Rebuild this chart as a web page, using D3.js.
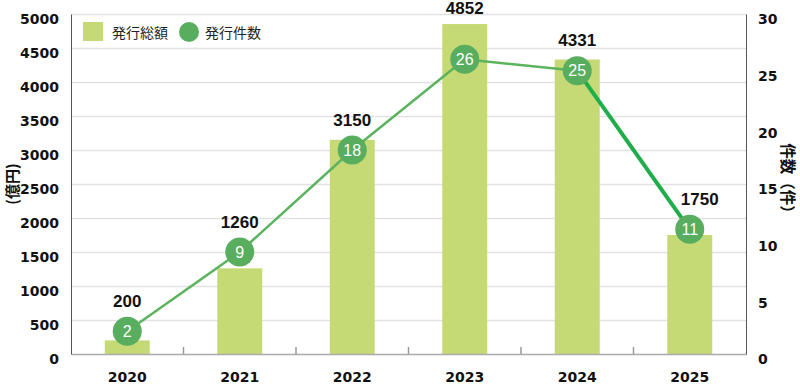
<!DOCTYPE html>
<html><head><meta charset="utf-8">
<script src="https://cdn.jsdelivr.net/npm/d3@7"></script>
<style>body{margin:0;background:#fff;}svg{display:block;}</style>
</head><body><svg id="c" width="800" height="391"></svg>
<script>
const years = ['2020','2021','2022','2023','2024','2025'];
const amounts = [200, 1260, 3150, 4852, 4331, 1750];
const counts = [2, 9, 18, 26, 25, 11];
const leftTicks = [0,500,1000,1500,2000,2500,3000,3500,4000,4500,5000];
const rightTicks = [0,5,10,15,20,25,30];
const legendLabels = ['発行総額','発行件数'];
const leftTitle = '(億円)';
const rightTitle = '件数（件）';

const svg = d3.select('#c');
const L = 71, R = 746, T = 14, B = 354;
const x = d3.scaleBand().domain(years).range([L, R]).padding(0);
const yL = d3.scaleLinear().domain([0, 5000]).range([B, T]);
const yR = d3.scaleLinear().domain([0, 30]).range([B, T]);
const bw = x.bandwidth();
const cx = d => x(d) + bw / 2;
const barColor = '#c5da75', dotColor = '#58ad5e';
const numFont = '"DejaVu Sans", sans-serif';
const jpFont = '"Noto Sans CJK JP", sans-serif';

// gridlines
const grid = svg.append('g').attr('transform', `translate(${L},0)`)
  .call(d3.axisLeft(yL).tickValues(leftTicks.slice(1)).tickSize(-(R - L)).tickFormat(''));
grid.select('.domain').remove();
grid.selectAll('line').attr('stroke', '#e2e2e2').attr('stroke-width', 1.5);

// bars
svg.append('g').selectAll('rect').data(years).join('rect')
  .attr('x', d => x(d) + bw * 0.3).attr('width', bw * 0.4)
  .attr('y', (d, i) => yL(amounts[i])).attr('height', (d, i) => B - yL(amounts[i]))
  .attr('fill', barColor);

// bottom axis
const xa = svg.append('g').attr('transform', `translate(0,${B})`)
  .call(d3.axisBottom(x).tickSize(0).tickPadding(18));
xa.select('.domain').attr('stroke', '#aaa').attr('stroke-width', 1.5);
xa.selectAll('text').attr('font-family', numFont).attr('font-weight', 'bold')
  .attr('font-size', 14).attr('fill', '#111');
// category separator ticks (pointing up)
svg.append('g').selectAll('line').data(years.slice(1)).join('line')
  .attr('x1', d => x(d)).attr('x2', d => x(d)).attr('y1', B - 7).attr('y2', B)
  .attr('stroke', '#999').attr('stroke-width', 1.5);

// left axis
const la = svg.append('g').attr('transform', `translate(${L},0)`)
  .call(d3.axisLeft(yL).tickValues(leftTicks).tickSize(0).tickPadding(12).tickFormat(d3.format('d')));
la.select('.domain').attr('stroke', '#555').attr('stroke-width', 1);
la.selectAll('text').attr('font-family', numFont).attr('font-weight', 'bold')
  .attr('font-size', 14).attr('fill', '#111').attr('dy', '0.7em');

// right axis
const ra = svg.append('g').attr('transform', `translate(${R},0)`)
  .call(d3.axisRight(yR).tickValues(rightTicks).tickSize(0).tickPadding(12).tickFormat(d3.format('d')));
ra.select('.domain').attr('stroke', '#555').attr('stroke-width', 1);
ra.selectAll('text').attr('font-family', numFont).attr('font-weight', 'bold')
  .attr('font-size', 14).attr('fill', '#111').attr('dy', '0.7em');

// axis titles
svg.append('text').attr('transform', `translate(11,184) rotate(-90)`)
  .attr('text-anchor', 'middle').attr('dominant-baseline', 'central')
  .attr('font-family', jpFont).attr('font-weight', 'bold').attr('font-size', 15)
  .attr('fill', '#111').text(leftTitle);
svg.append('text').attr('transform', `translate(789,182) rotate(90)`)
  .attr('text-anchor', 'middle').attr('dominant-baseline', 'central')
  .attr('font-family', jpFont).attr('font-weight', 'bold').attr('font-size', 15.5)
  .attr('fill', '#111').text(rightTitle);

// line
const pts = years.map((d, i) => [cx(d), yR(counts[i])]);
const lineGen = d3.line();
svg.append('path').attr('d', lineGen(pts.slice(0, pts.length - 1)))
  .attr('fill', 'none').attr('stroke', '#5bb35e').attr('stroke-width', 2.5);
svg.append('path').attr('d', lineGen(pts.slice(pts.length - 2)))
  .attr('fill', 'none').attr('stroke', '#1fae4b').attr('stroke-width', 4);

// dots
const r = 14.5;
const dots = svg.append('g').selectAll('g').data(years).join('g')
  .attr('transform', (d, i) => `translate(${cx(d)},${yR(counts[i])})`);
dots.append('circle').attr('r', r).attr('fill', dotColor);
dots.append('text').attr('text-anchor', 'middle').attr('dy', '0.36em')
  .attr('font-family', '"Liberation Sans", sans-serif').attr('font-size', 16)
  .attr('fill', '#fff').text((d, i) => counts[i]);

// value labels
svg.append('g').selectAll('text').data(years).join('text')
  .attr('x', (d, i) => cx(d) + (i === years.length - 1 ? 10 : 0))
  .attr('y', (d, i) => Math.min(yL(amounts[i]), yR(counts[i]) - r) - 10)
  .attr('text-anchor', 'middle')
  .attr('font-family', '"Liberation Sans", sans-serif').attr('font-weight', 'bold')
  .attr('font-size', 17).attr('fill', '#111').text((d, i) => amounts[i]);

// legend
const lg = svg.append('g');
lg.append('rect').attr('x', 83).attr('y', 22).attr('width', 20).attr('height', 19).attr('fill', barColor);
lg.append('text').attr('x', 112).attr('y', 32).attr('dominant-baseline', 'central')
  .attr('font-family', jpFont).attr('font-size', 14).attr('fill', '#222').text(legendLabels[0]);
lg.append('circle').attr('cx', 189).attr('cy', 32).attr('r', 10).attr('fill', dotColor);
lg.append('text').attr('x', 205).attr('y', 32).attr('dominant-baseline', 'central')
  .attr('font-family', jpFont).attr('font-size', 14).attr('fill', '#222').text(legendLabels[1]);
</script></body></html>
